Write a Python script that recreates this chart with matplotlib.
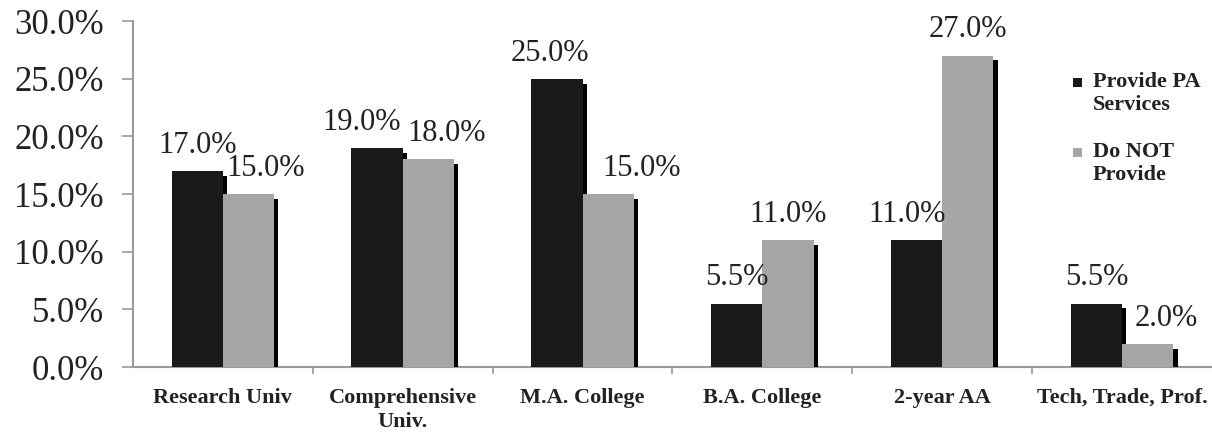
import matplotlib
matplotlib.use("Agg")
import matplotlib.pyplot as plt
import matplotlib.patheffects as pe
from matplotlib.patches import Rectangle
from matplotlib.container import BarContainer
from matplotlib.legend_handler import HandlerPatch, update_from_first_child
import numpy as np
from matplotlib.ticker import FuncFormatter, FixedLocator

categories = ["Research Univ", "Comprehensive\nUniv.", "M.A. College", "B.A. College",
              "2-year AA", "Tech, Trade, Prof."]
provide = [17.0, 19.0, 25.0, 5.5, 11.0, 5.5]
not_provide = [15.0, 18.0, 15.0, 11.0, 27.0, 2.0]
series_names = ["Provide PA\nServices", "Do NOT\nProvide"]

# sideways nudges (points) for labels Excel pushed aside
nudge_provide = [0, -11, -5, 0, -7, 0]
nudge_not = [12, 13, 24, 0, 0, 13]

plt.rcParams["font.family"] = ["Liberation Serif", "DejaVu Serif"]

fig = plt.figure(figsize=(12.12, 4.33), dpi=100)
ax = fig.add_axes([0.1097, 0.1524, 0.8903, 0.7991])

x = np.arange(len(categories))
w = 0.285
shadow = [pe.SimplePatchShadow(offset=(3, -3.5), shadow_rgbFace="black", alpha=1.0), pe.Normal()]

b1 = ax.bar(x - w / 2, provide, w, color="#1a1a1a", label=series_names[0], zorder=3)
b2 = ax.bar(x + w / 2, not_provide, w, color="#a6a6a6", label=series_names[1], zorder=3)
for b in list(b1) + list(b2):
    b.set_path_effects(shadow)

for bars, vals, nudge in [(b1, provide, nudge_provide), (b2, not_provide, nudge_not)]:
    for rect, v, dx in zip(bars, vals, nudge):
        ax.annotate(f"{v:.1f}%", (rect.get_x() + rect.get_width() / 2, v),
                    xytext=(dx, 8), textcoords="offset points",
                    ha="center", va="bottom", fontsize=22, color="#222222", zorder=5)

ax.set_xlim(-0.5, len(categories) - 0.5)
ax.set_ylim(0, 30)
ax.set_yticks(np.arange(0, 31, 5))
ax.yaxis.set_major_formatter(FuncFormatter(lambda v, p: f"{v:.1f}%"))
ax.tick_params(axis="y", labelsize=25, labelcolor="#222222", length=8, pad=13,
               color="#9a9a9a", width=1.2)

ax.set_xticks(x)
ax.set_xticklabels(categories, fontsize=16, fontweight="bold", color="#222222")
for t in ax.get_xticklabels():
    t.set_linespacing(1.25)
ax.xaxis.set_minor_locator(FixedLocator(np.arange(0.5, len(categories) - 1, 1)))
ax.tick_params(axis="x", which="major", length=0, pad=15)
ax.tick_params(axis="x", which="minor", length=5, color="#9a9a9a", width=1.2)

for s in ["top", "right"]:
    ax.spines[s].set_visible(False)
for s in ["left", "bottom"]:
    ax.spines[s].set_color("#9a9a9a")
    ax.spines[s].set_linewidth(1.5)


def top_square(legend, orig_handle, xdescent, ydescent, width, height, fontsize):
    s = 6.5
    return Rectangle((-xdescent, -ydescent + height - s - 2), s, s)


leg = fig.legend(handles=[b1, b2], loc="upper left", bbox_to_anchor=(0.876, 0.859),
                 frameon=False, borderpad=0, prop={"size": 16, "weight": "bold"},
                 handlelength=0.4, handleheight=2.2, handletextpad=0.5, labelspacing=1.2,
                 handler_map={BarContainer: HandlerPatch(patch_func=top_square,
                                                         update_func=update_from_first_child)})
for h in leg.legend_handles:
    h.set_path_effects([])
for t in leg.get_texts():
    t.set_color("#222222")

fig.savefig("out.png", dpi=100)
